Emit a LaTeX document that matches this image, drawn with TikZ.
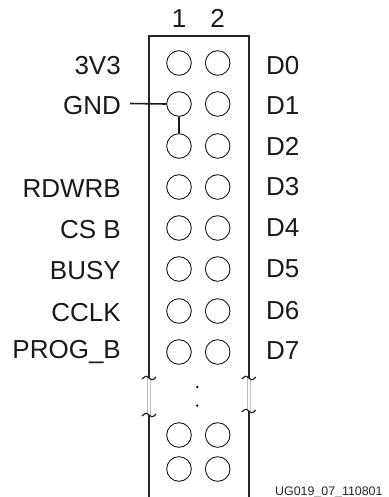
\documentclass[tikz,border=0pt]{standalone}
\usepackage{fontspec}
\setmainfont{Liberation Sans}
\tikzset{
  pin/.style={circle,draw=black!90,line width=0.9pt,minimum size=24.6pt,inner sep=0pt,fill=white},
  lab/.style={font=\fontsize{26}{26}\selectfont,text=black!90,inner sep=0pt,anchor=base east},
  labr/.style={font=\fontsize{26}{26}\selectfont,text=black!90,inner sep=0pt,anchor=base west},
  wall/.style={draw=black!85,line width=2pt},
  gap/.style={draw=black!25,line width=1pt},
  brk/.style={draw=black!85,line width=1.2pt},
}
\newcommand{\tld}[2]{\draw[brk] (#1-7,#2+1) .. controls (#1-3,#2-3) and (#1-1,#2-2) .. (#1,#2) .. controls (#1+1,#2+2) and (#1+4,#2+3) .. (#1+7,#2-1);}
\begin{document}
\begin{tikzpicture}[x=1pt,y=-1pt]
\useasboundingbox (0,0) rectangle (388,497);
% walls
\coordinate (tl) at (149,36); \coordinate (tr) at (248.7,36);
\coordinate (ll) at (149,378); \coordinate (rl) at (248.7,378);
\coordinate (lb) at (149,415); \coordinate (rb) at (248.7,411);
\coordinate (lbot) at (149,497); \coordinate (rbot) at (248.7,497);
\draw[wall,line join=miter] (ll) -- (tl) -- (tr) -- (rl);
\draw[wall] (lb) -- (lbot);
\draw[wall] (rb) -- (rbot);
\draw[gap] (147.7,378) -- (147.7,415) (150.3,378) -- (150.3,415);
\draw[gap] (247.4,378) -- (247.4,411) (250,378) -- (250,411);
\tld{149}{378}\tld{248.7}{378}\tld{149}{415}\tld{248.7}{411}
% pins
\foreach \n/\y in {1/63,2/104,3/146,4/187,5/228,6/269,7/311,8/352,9/435,10/469}{
  \node[pin] (a\n) at (179,\y) {};
  \node[pin] (b\n) at (217.7,\y) {};
}
% wires
\coordinate (gs) at (130,103.5);
\draw[black!90,line width=1.6pt] (gs) -- (a2.west);
\draw[black!90,line width=1.6pt] (a2.south) -- (a3.north);
% dots
\node[circle,fill=black,inner sep=0pt,minimum size=2.6pt] (d1) at (197.3,387) {};
\node[circle,fill=black,inner sep=0pt,minimum size=2.6pt] (d2) at (197.3,405.6) {};
% headers
\node[font=\fontsize{26}{26}\selectfont,text=black!90,inner sep=0pt,anchor=base] (h1) at (179,27.7) {1};
\node[font=\fontsize{26}{26}\selectfont,text=black!90,inner sep=0pt,anchor=base] (h2) at (217.7,27.7) {2};
% left labels
\node[lab] (l1) at (121,75) {3V3};
\node[lab] (l2) at (121,114.3) {GND};
\node[lab] (l4) at (121,197.7) {RDWRB};
\node[lab] (l5) at (121,238) {CS B};
\node[lab] (l6) at (121,279.3) {BUSY};
\node[lab] (l7) at (121,321) {CCLK};
\node[lab] (l8) at (121,358.3) {PROG\_B};
% right labels
\foreach \n/\y in {0/74.3,1/115,2/155.7,3/195.7,4/236,5/277.7,6/319,7/359.3}{
  \node[labr] (r\n) at (266,\y) {D\n};
}
\node[inner sep=0pt,anchor=base west,font=\fontsize{12.4}{13}\selectfont,text=black!85] (id) at (275,495) {UG019\_07\_110801};
\end{tikzpicture}
\end{document}
